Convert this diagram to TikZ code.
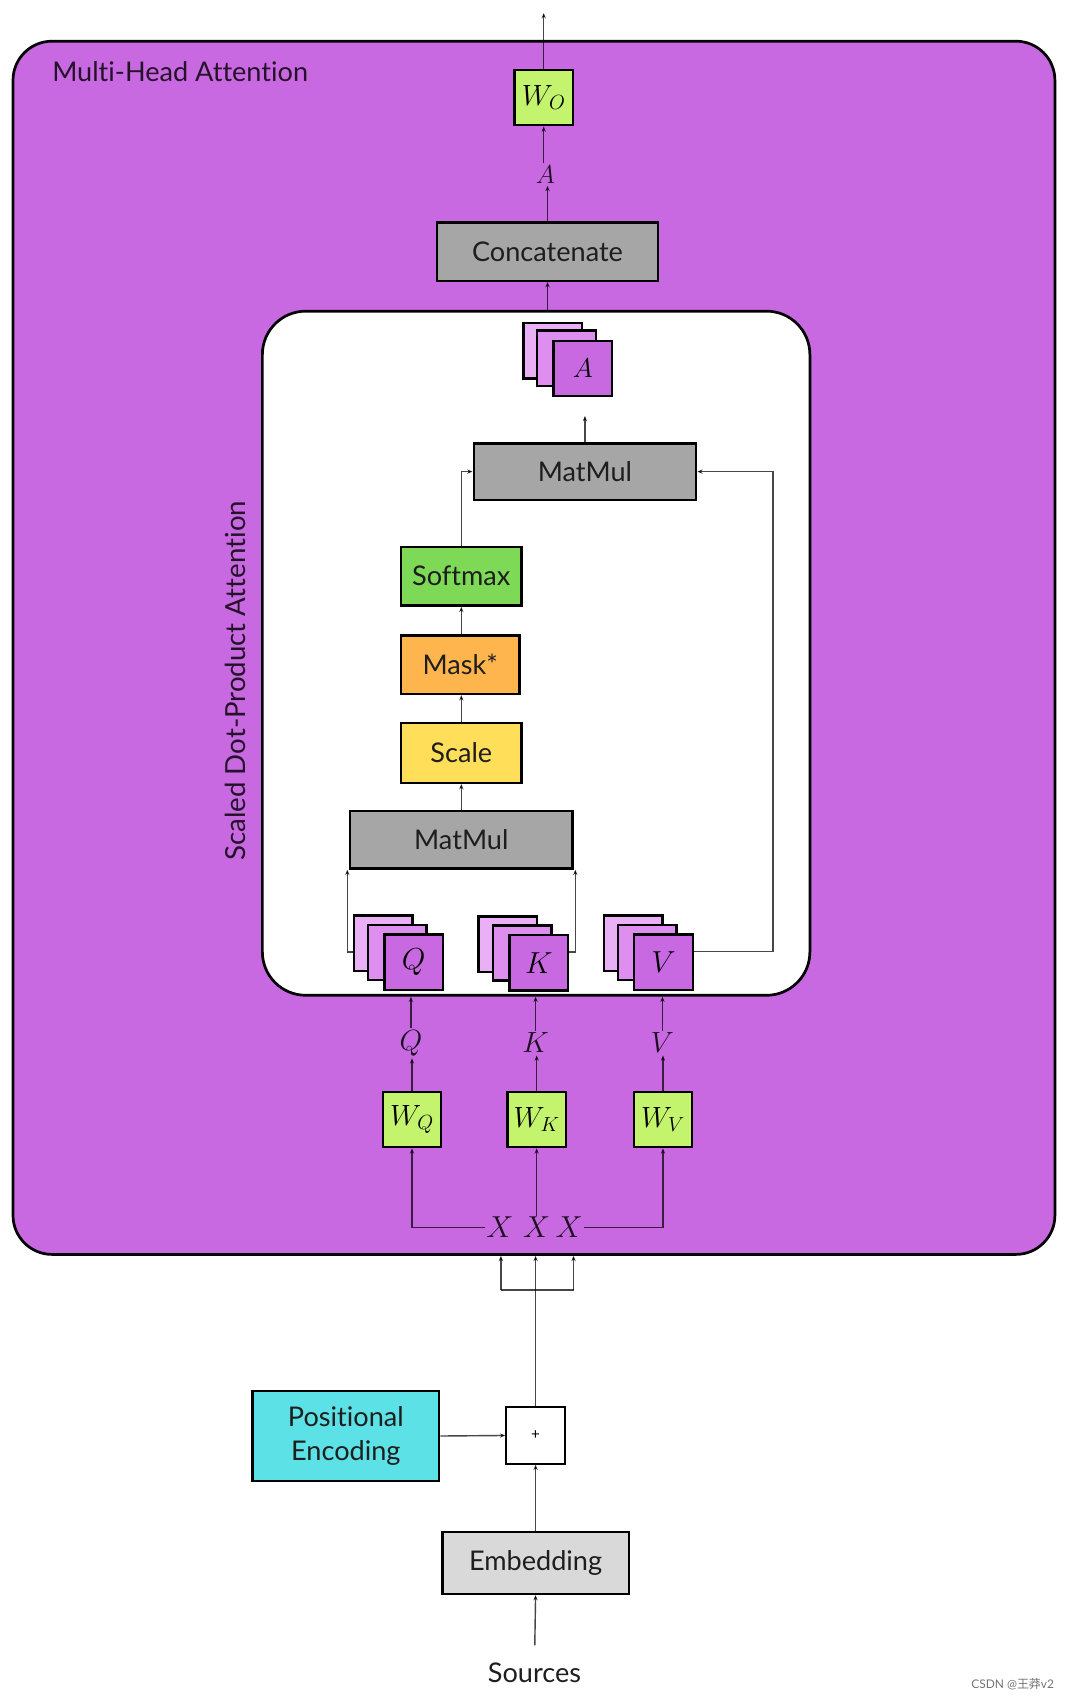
\RequirePackage{fix-cm}
\documentclass[tikz,border=0pt]{standalone}
\usepackage{fontspec}
\setmainfont{Lato}[Ligatures=NoCommon]
\newfontfamily\cjkfont{Noto Sans CJK SC}
\usetikzlibrary{arrows.meta,calc}
\definecolor{purp}{RGB}{200,105,226}
\definecolor{purpmid}{RGB}{221,142,238}
\definecolor{purplight}{RGB}{234,176,246}
\definecolor{lime}{RGB}{196,243,110}
\definecolor{boxgray}{RGB}{166,166,166}
\definecolor{softgreen}{RGB}{126,217,87}
\definecolor{maskorange}{RGB}{255,181,77}
\definecolor{scaleyellow}{RGB}{255,222,89}
\definecolor{pecyan}{RGB}{92,225,230}
\definecolor{embgray}{RGB}{217,217,217}
\definecolor{txt}{RGB}{30,30,30}
\begin{document}
\begin{tikzpicture}[x=1pt,y=-1pt,
  blk/.style={draw=black, line width=2.3pt, inner sep=0pt, text=txt,
    font=\fontsize{25}{29}\selectfont},
  sq/.style={draw=black, line width=2.2pt, inner sep=0pt, minimum width=54pt, minimum height=51pt},
  wbox/.style={sq, fill=lime, font=\fontsize{27}{30}\selectfont},
  mlab/.style={inner sep=2pt, text=black, text opacity=0.85, font=\fontsize{27}{30}\selectfont},
  conn/.style={draw=black, draw opacity=0.72, line width=1.3pt},
  arr/.style={conn, -{Stealth[length=5pt,width=4pt]}}
]
\useasboundingbox (0,0) rectangle (991,1568);

% outer box
\node[draw=black, line width=2.5pt, fill=purp, rounded corners=36pt,
  minimum width=961pt, minimum height=1119pt, inner sep=0pt] (outer) at (492.5,597.5) {};
\node[anchor=west, text=black, text opacity=0.82, inner sep=0pt,
  font=\fontsize{25}{28}\selectfont] (mha) at (48,66) {Multi-Head Attention};

% inner box
\node[draw=black, line width=2.5pt, fill=white, rounded corners=40pt,
  minimum width=505pt, minimum height=631pt, inner sep=0pt] (inner) at (494.5,602.5) {};
\node[rotate=90, text=black, text opacity=0.82, inner sep=0pt,
  font=\fontsize{25.5}{28}\selectfont] (sdpa) at (217,628) {Scaled Dot-Product Attention};

% top part
\coordinate (top) at (501.5,12);
\node[wbox] (WO) at (501.5,90) {$W_O$};
\node[mlab, font=\fontsize{24}{26}\selectfont] (Alab) at (503,161) {$A$};
\node[blk, fill=boxgray, minimum width=204pt, minimum height=54pt] (concat) at (505,232) {Concatenate};

% A stack
\node[sq, fill=purplight] (Aback) at (510,323.5) {};
\node[sq, fill=purpmid] (Amid) at (522.5,330.5) {};
\node[sq, fill=purp, font=\fontsize{25}{30}\selectfont] (Afront) at (537.5,340) {$A$};

\node[blk, fill=boxgray, minimum width=205pt, minimum height=52pt] (mm2) at (539.5,435) {MatMul};
\node[blk, fill=softgreen, minimum width=111pt, minimum height=54pt] (softmax) at (425.5,531.5) {Softmax};
\node[blk, fill=maskorange, minimum width=109pt, minimum height=54pt] (mask) at (424.5,613) {Mask*};
\node[blk, fill=scaleyellow, minimum width=111pt, minimum height=55pt] (scale) at (425.5,694.5) {Scale};
\node[blk, fill=boxgray, minimum width=205pt, minimum height=53pt] (mm1) at (425.5,774.5) {MatMul};

% Q K V stacks
\node[sq, fill=purplight] (Qback) at (353.5,870) {};
\node[sq, fill=purpmid] (Qmid) at (366.5,878.5) {};
\node[sq, fill=purp, font=\fontsize{28}{30}\selectfont] (Qfront) at (381.5,887.5) {$Q$};
\node[sq, fill=purplight] (Kback) at (468.5,871) {};
\node[sq, fill=purpmid] (Kmid) at (481.5,879) {};
\node[sq, fill=purp, font=\fontsize{28}{30}\selectfont] (Kfront) at (497,888) {$K$};
\node[sq, fill=purplight] (Vback) at (584,870) {};
\node[sq, fill=purpmid] (Vmid) at (597,878.5) {};
\node[sq, fill=purp, font=\fontsize{28}{30}\selectfont] (Vfront) at (612,887.5) {$V$};

% labels and W boxes
\node[mlab] (Qlab) at (379,962) {$Q$};
\node[mlab] (Klab) at (494,962) {$K$};
\node[mlab] (Vlab) at (611,962) {$V$};
\node[wbox] (WQ) at (380,1032.5) {$W_Q$};
\node[wbox] (WK) at (495,1032.5) {$W_K$};
\node[wbox] (WV) at (611.5,1032.5) {$W_V$};
\node[mlab, font=\fontsize{28}{30}\selectfont, inner sep=1pt] (X1) at (461,1132) {$X$};
\node[mlab, font=\fontsize{28}{30}\selectfont, inner sep=1pt] (X2) at (495,1132) {$X$};
\node[mlab, font=\fontsize{28}{30}\selectfont, inner sep=1pt] (X3) at (525,1132) {$X$};

% bottom part
\node[draw=black, line width=2pt, fill=white, minimum width=54pt, minimum height=52pt,
  inner sep=0pt, font=\fontsize{14}{16}\selectfont] (plus) at (494,1324) {+};
\node[blk, fill=pecyan, minimum width=172pt, minimum height=83pt, align=center,
  font=\fontsize{25}{32}\selectfont] (pe) at (319,1324.5) {Positional\\Encoding};
\node[blk, fill=embgray, minimum width=172pt, minimum height=57pt] (emb) at (494,1441.5) {Embedding};
\node[inner sep=0pt, text=txt, font=\fontsize{25}{28}\selectfont] (src) at (493,1543) {Sources};
\node[inner sep=0pt, text=black!55, font=\fontsize{11}{13}\selectfont] (wm) at (934,1553) {CSDN @{\cjkfont 王莽}v2};

\coordinate (j) at (494,1190);
\coordinate (jl) at (462,1190);
\coordinate (jr) at (529,1190);

% connectors
\draw[arr] (WO.north) -- (top);
\draw[arr] (Alab.north -| WO.south) -- (WO.south);
\draw[arr] (concat.north) -- (concat.north |- Alab.south);
\draw[arr] (concat.south |- inner.north) -- (concat.south);
\draw[arr, shorten >=17pt] (mm2.north) -- (mm2.north |- Afront.south);
\draw[arr] (softmax.north) |- (mm2.west);
\draw[arr] ([yshift=10pt]Vfront.east) -| ([xshift=70pt]mm2.east) -- (mm2.east);
\draw[arr] ([yshift=-8pt]Qback.west) -| ([xshift=-1.5pt]mm1.south west);
\draw[arr] ([yshift=10pt]Kfront.east) -| ([xshift=1.5pt]mm1.south east);
\draw[arr] (mm1.north) -- (scale.south);
\draw[arr] (scale.north) -- (scale.north |- mask.south);
\draw[arr] (mask.north -| softmax.south) -- (softmax.south);
\draw[arr] (Qlab.north) -- (Qlab.north |- inner.south);
\draw[arr] (Klab.north) -- (Klab.north |- inner.south);
\draw[arr] (Vlab.north) -- (Vlab.north |- inner.south);
\draw[arr] (WQ.north) -- (WQ.north |- Qlab.south);
\draw[arr] (WK.north) -- (WK.north |- Klab.south);
\draw[arr] (WV.north) -- (WV.north |- Vlab.south);
\draw[arr] (X1.west) -| (WQ.south);
\draw[arr] (X2.north) -- (X2.north |- WK.south);
\draw[arr] (X3.east) -| (WV.south);
\draw[conn] (plus.north) -- (j);
\draw[conn] (jl) -- (jr);
\draw[arr] (jl) -- (jl |- outer.south);
\draw[arr] (j) -- (j |- outer.south);
\draw[arr] (jr) -- (jr |- outer.south);
\draw[arr] (pe.east) -- (plus.west);
\draw[arr] (emb.north) -- (plus.south);
\draw[arr, shorten <=16pt] (src.north) -- (emb.south);
\end{tikzpicture}
\end{document}
